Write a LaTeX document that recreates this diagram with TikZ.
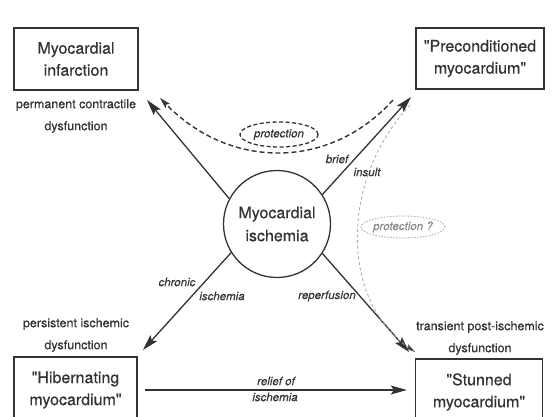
\documentclass[tikz,border=0pt]{standalone}
\usepackage{fontspec}
\setmainfont{TeX Gyre Heros}
\newfontfamily\heavy{TeX Gyre Heros}[FakeBold=0.45]
\newfontfamily\semi{TeX Gyre Heros}[FakeBold=0.25]
\usetikzlibrary{arrows.meta,shapes.geometric}
\definecolor{ink}{HTML}{333333}
\definecolor{lgray}{HTML}{A8A8A8}
\definecolor{mgray}{HTML}{8A8A8A}
\begin{document}
\begin{tikzpicture}[x=1pt,y=-1pt,
  box/.style={draw=ink,line width=1.4pt,text=ink,align=center,font=\heavy\fontsize{16}{22}\selectfont,inner sep=0pt},
  lbl/.style={text=ink,align=center,font=\semi\fontsize{12.5}{22}\selectfont,inner sep=0pt},
  itl/.style={text=ink,font=\semi\fontsize{11.5}{14}\selectfont\itshape,inner sep=0pt},
  arr/.style={draw=ink,line width=1.3pt,-{Stealth[length=16pt,width=9pt,inset=3pt]}},
  darr/.style={draw=ink,line width=1.4pt,dash pattern=on 5pt off 3pt,-{Stealth[length=11pt,width=6pt,inset=2pt]}},
  garr/.style={draw=lgray,line width=0.8pt,dash pattern=on 3pt off 2.5pt,-{Stealth[length=10pt,width=5pt,inset=2pt,color=ink!90]}}
]
\useasboundingbox (0,0) rectangle (554,417);
\fill[white] (0,0) rectangle (554,417);
\clip (0,0) rectangle (554,417);

% boxes
\node[box,minimum width=124pt,minimum height=62pt] (inf) at (76,59) {Myocardial\\infarction};
\node[box,minimum width=128pt,minimum height=61pt] (pre) at (480,58.5) {"Preconditioned\\myocardium"};
\node[box,minimum width=123pt,minimum height=66pt] (hib) at (75.5,390) {"Hibernating\\myocardium"};
\node[box,minimum width=127pt,minimum height=66pt] (stu) at (479,392) {"Stunned\\myocardium"};

% centre circle
\node[circle,draw=ink,line width=1.3pt,minimum size=107pt,inner sep=0pt,text=ink,align=center,
      font=\heavy\fontsize{16}{23}\selectfont] (isch) at (277,224) {Myocardial\\ischemia};

% state labels
\node[lbl] (linf) at (76,116) {permanent contractile\\dysfunction};
\node[lbl] (lhib) at (76,335) {persistent ischemic\\dysfunction};
\node[lbl] (lstu) at (480,338) {transient post-ischemic\\dysfunction};

% arrow tips
\coordinate (tinf) at (147,100);
\coordinate (tpre) at (411,97);
\coordinate (thib) at (143,350);
\coordinate (tstu) at (409,352);

\draw[arr] (isch.152) -- (tinf);
\draw[arr] (isch.33) -- (tpre);
\draw[arr] (isch.212) -- (thib);
\draw[arr] (isch.-33) -- (tstu);
\draw[arr,shorten <=7pt,shorten >=8pt] (hib.east) -- (hib.east -| stu.west);

% protection curve
\coordinate (pa) at (393,100);
\coordinate (pb) at (160,98);
\draw[darr] (pa) .. controls (330,170) and (230,170) .. (pb);
\node[itl,ellipse,draw=ink,line width=1.3pt,dash pattern=on 4pt off 2.5pt,minimum width=78pt,minimum height=25pt] (prot) at (279,134.5) {protection};

% protection ? curve
\coordinate (ga) at (410,105);
\coordinate (gb) at (415,352);
\draw[garr] (ga) .. controls (340,180) and (340,300) .. (gb);
\node[itl,text=mgray,ellipse,draw=lgray,line width=0.8pt,dash pattern=on 1.5pt off 1.5pt,minimum width=73pt,minimum height=22pt] (prot2) at (403,227) {protection ?};

% connector labels
\node[itl] (lbrief) at (337,159) {brief};
\node[itl] (linsult) at (367,172) {insult};
\node[itl] (lchron) at (177,282) {chronic};
\node[itl] (lisch) at (222,296) {ischemia};
\node[itl] (lrep) at (327,296) {reperfusion};
\node[itl] (lrel) at (276,381) {relief of};
\node[itl] (lrel2) at (275,397) {ischemia};
\end{tikzpicture}
\end{document}
